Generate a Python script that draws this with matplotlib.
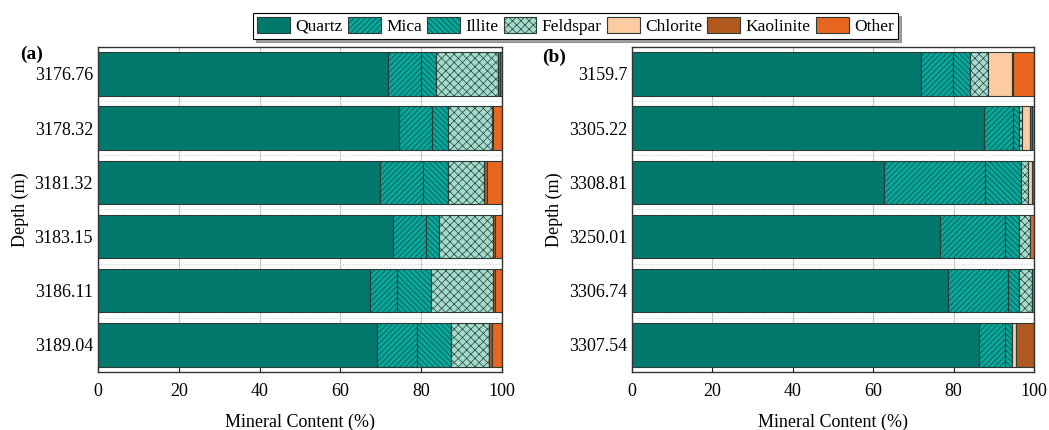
import matplotlib.pyplot as plt
from matplotlib.patches import Patch

plt.rcParams['font.family'] = ['Liberation Serif', 'DejaVu Serif']
plt.rcParams['hatch.linewidth'] = 0.5

minerals = ['Quartz', 'Mica', 'Illite', 'Feldspar', 'Chlorite', 'Kaolinite', 'Other']

depth_a = ['3176.76', '3178.32', '3181.32', '3183.15', '3186.11', '3189.04']
quartz_a = [71.7, 74.5, 69.8, 73.0, 67.4, 69.0]
mica_a = [8.3, 8.1, 10.6, 8.1, 6.6, 9.9]
illite_a = [3.7, 4.0, 6.2, 3.3, 8.3, 8.5]
feldspar_a = [15.3, 10.8, 8.9, 13.3, 15.5, 9.3]
chlorite_a = [0.0, 0.0, 0.0, 0.0, 0.0, 0.0]
kaolinite_a = [0.5, 0.4, 0.7, 0.5, 0.5, 0.7]
other_a = [0.5, 2.2, 3.8, 1.8, 1.7, 2.6]

depth_b = ['3159.7', '3305.22', '3308.81', '3250.01', '3306.74', '3307.54']
quartz_b = [72.0, 87.6, 62.7, 76.7, 78.7, 86.2]
mica_b = [7.9, 7.2, 25.2, 16.0, 14.8, 6.7]
illite_b = [4.3, 1.5, 8.8, 3.6, 2.7, 1.6]
feldspar_b = [4.4, 0.7, 1.9, 2.7, 3.4, 0.0]
chlorite_b = [5.9, 2.0, 0.8, 0.0, 0.0, 0.9]
kaolinite_b = [0.4, 0.6, 0.6, 0.0, 0.0, 4.6]
other_b = [5.1, 0.4, 0.0, 1.0, 0.4, 0.0]

colors = ['#00786b', '#00aa9c', '#00aa9c', '#a2dccc', '#fccba2', '#b1581f', '#e8661f']
hatches = ['', '//////', '\\\\\\\\\\\\', 'xxxx', '', '', '']
edge = '#2b3b38'


def draw_panel(ax, depths, series):
    pos = list(range(len(depths)))
    left = [0.0] * len(depths)
    for vals, c, h, name in zip(series, colors, hatches, minerals):
        ax.barh(pos, vals, left=left, height=0.8, color=c, hatch=h,
                edgecolor=edge, linewidth=0.8, label=name, zorder=2)
        left = [a + b for a, b in zip(left, vals)]
    ax.set_yticks(pos)
    ax.set_yticklabels(depths)
    ax.set_ylim(len(depths) - 0.5, -0.5)
    ax.set_xlim(0, 100)
    ax.set_xticks([0, 20, 40, 60, 80, 100])
    ax.set_yticks([p + 0.5 for p in pos[:-1]], minor=True)
    ax.grid(axis='x', color='#c8c8c8', linewidth=0.8, zorder=0)
    ax.grid(axis='y', which='minor', color='#d0d0d0', linestyle=':', linewidth=0.8, zorder=0)
    ax.set_axisbelow(True)
    ax.tick_params(axis='both', which='major', direction='in', length=5,
                   labelsize=13, color='#222222')
    ax.tick_params(axis='y', which='minor', length=0)
    ax.tick_params(axis='x', pad=8)
    for s in ax.spines.values():
        s.set_color('#333333')
        s.set_linewidth(1.0)
    ax.set_xlabel('Mineral Content (%)', fontsize=13, labelpad=10)
    ax.set_ylabel('Depth (m)', fontsize=13, labelpad=4)


fig = plt.figure(figsize=(10.49, 4.3), dpi=100)
ax1 = fig.add_axes([0.0934, 0.135, 0.3852, 0.756])
ax2 = fig.add_axes([0.6025, 0.135, 0.3832, 0.756])

draw_panel(ax1, depth_a, [quartz_a, mica_a, illite_a, feldspar_a,
                          chlorite_a, kaolinite_a, other_a])
draw_panel(ax2, depth_b, [quartz_b, mica_b, illite_b, feldspar_b,
                          chlorite_b, kaolinite_b, other_b])

fig.text(0.019, 0.862, '(a)', fontsize=14, fontweight='bold')
fig.text(0.517, 0.857, '(b)', fontsize=14, fontweight='bold')

handles = [Patch(facecolor=c, hatch=h, edgecolor=edge, linewidth=0.8)
           for c, h in zip(colors, hatches)]
leg = fig.legend(handles, minerals, loc='upper center', bbox_to_anchor=(0.5486, 0.978),
                 ncol=7, fontsize=12.5, frameon=True, fancybox=False, shadow=True,
                 handlelength=1.9, handleheight=1.0, handletextpad=0.3,
                 columnspacing=0.3, borderpad=0.25, borderaxespad=0.2)
leg.get_frame().set_edgecolor('black')
leg.get_frame().set_linewidth(0.8)

fig.savefig('out.png', dpi=100)
